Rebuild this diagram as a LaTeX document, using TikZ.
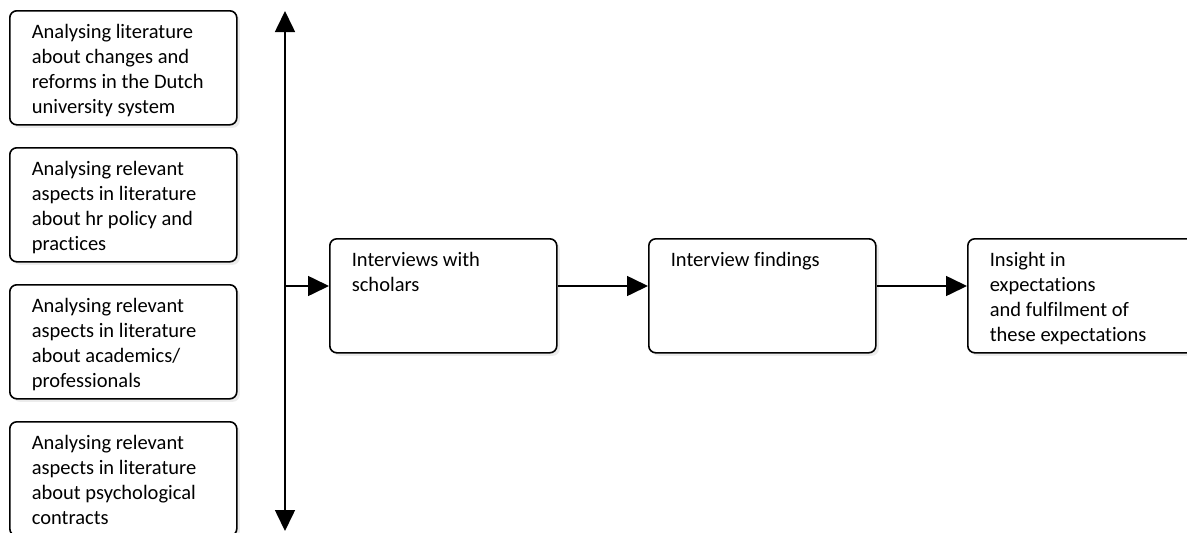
\documentclass[tikz,border=0pt]{standalone}
\usepackage{fontspec}
\setmainfont{Carlito}[Ligatures=NoCommon]
\usetikzlibrary{
    arrows.meta,
    shadows
}

\begin{document}
\begin{tikzpicture}[
        x=1pt, y=-1pt,
        >={Triangle[length=21pt,width=20pt]},
        stage/.style={
            draw,
            line width=1.6pt,
            rounded corners=7pt,
            fill=white,
            drop shadow={opacity=0.15, shadow xshift=3pt, shadow yshift=-3pt},
            anchor=north west,
            align=flush left,
            text width=183pt,
            inner xsep=22pt,
            inner ysep=15pt,
            text height=13pt,
            text depth=71pt,
            font=\fontsize{20.5}{25}\selectfont
        },
        flow/.style={
            ->,
            line width=1.6pt
        }
    ]
        \useasboundingbox (0,0) rectangle (1187,533);

        \node[stage] (lit1) at (9,10) {Analysing literature\\about changes and\\reforms in the Dutch\\university system};
        \node[stage] (lit2) at (9,147) {Analysing relevant\\aspects in literature\\about hr policy and\\practices};
        \node[stage] (lit3) at (9,284) {Analysing relevant\\aspects in literature\\about academics/\\professionals};
        \node[stage] (lit4) at (9,421) {Analysing relevant\\aspects in literature\\about psychological\\contracts};

        \node[stage] (talks) at (329,238) {Interviews with\\scholars};
        \node[stage] (findings) at (648,238) {Interview findings};
        \node[stage] (insight) at (967,238) {Insight in\\expectations\\and fulfilment of\\these expectations};

        \coordinate (top) at (285,11);
        \coordinate (bottom) at (285,531);
        \coordinate (hub) at (285,286);

        \draw[flow, <->] (bottom) -- (top);
        \draw[flow] (hub) -- (talks.west |- hub);
        \draw[flow] (talks.east |- hub) -- (findings.west |- hub);
        \draw[flow] (findings.east |- hub) -- (insight.west |- hub);
    \end{tikzpicture}
\end{document}
